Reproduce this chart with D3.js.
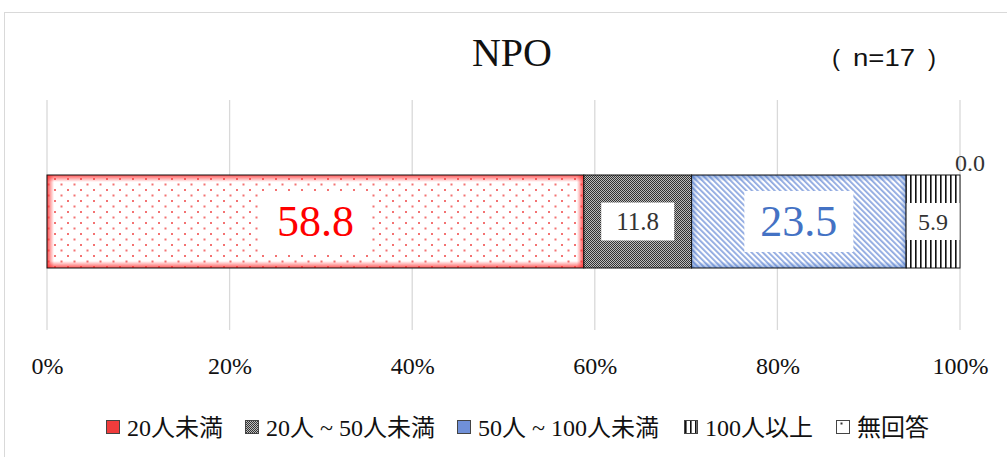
<!DOCTYPE html>
<html><head><meta charset="utf-8">
<script src="https://cdn.jsdelivr.net/npm/d3@7"></script>
<style>body{margin:0;background:#fff}svg{display:block}</style>
</head><body><svg id="c" width="1007" height="457"></svg>
<script>
const categories = ["20人未満","20人 ~ 50人未満","50人 ~ 100人未満","100人以上","無回答"];
const values = [58.8, 11.8, 23.5, 5.9, 0.0];
const ticks = [0,20,40,60,80,100];
const tickLabels = ["0%","20%","40%","60%","80%","100%"];
const title = "NPO";
const sampleNote = ["(", "n=17", ")"];

const svg = d3.select("#c");
const serif = "'Liberation Serif','DejaVu Serif',serif";
const legendFont = "'Liberation Serif','Noto Sans CJK JP',serif";
const defs = svg.append("defs");

// red dotted with inner glow
const rg = defs.append("pattern").attr("id","pRed").attr("patternUnits","userSpaceOnUse").attr("width",13).attr("height",11);
rg.append("rect").attr("width",13).attr("height",11).attr("fill","#fff");
rg.append("rect").attr("x",2).attr("y",2).attr("width",2).attr("height",2).attr("fill","#f37272");
rg.append("rect").attr("x",8.5).attr("y",7.5).attr("width",2).attr("height",2).attr("fill","#f37272");
const gx = defs.append("linearGradient").attr("id","gRedX");
gx.append("stop").attr("offset","0").attr("stop-color","#ff2a2a").attr("stop-opacity",0.85);
gx.append("stop").attr("offset","0.013").attr("stop-color","#ff2a2a").attr("stop-opacity",0);
gx.append("stop").attr("offset","0.987").attr("stop-color","#ff2a2a").attr("stop-opacity",0);
gx.append("stop").attr("offset","1").attr("stop-color","#ff2a2a").attr("stop-opacity",0.85);
const gy = defs.append("linearGradient").attr("id","gRedY").attr("x2",0).attr("y2",1);
gy.append("stop").attr("offset","0").attr("stop-color","#ff2a2a").attr("stop-opacity",0.8);
gy.append("stop").attr("offset","0.075").attr("stop-color","#ff2a2a").attr("stop-opacity",0);
gy.append("stop").attr("offset","0.925").attr("stop-color","#ff2a2a").attr("stop-opacity",0);
gy.append("stop").attr("offset","1").attr("stop-color","#ff2a2a").attr("stop-opacity",0.8);
// gray checker
const gp = defs.append("pattern").attr("id","pGray").attr("patternUnits","userSpaceOnUse").attr("width",2).attr("height",2);
gp.append("rect").attr("width",2).attr("height",2).attr("fill","#bdbdbd");
gp.append("rect").attr("width",1).attr("height",1).attr("fill","#333");
gp.append("rect").attr("x",1).attr("y",1).attr("width",1).attr("height",1).attr("fill","#333");
// blue diagonal stripes "\"
const bp = defs.append("pattern").attr("id","pBlue").attr("patternUnits","userSpaceOnUse").attr("width",4).attr("height",4).attr("patternTransform","rotate(-45)");
bp.append("rect").attr("width",4).attr("height",4).attr("fill","#ffffff");
bp.append("rect").attr("width",1.8).attr("height",4).attr("fill","#8ea8e0");
const gb = defs.append("linearGradient").attr("id","gBlueY").attr("x2",0).attr("y2",1);
gb.append("stop").attr("offset","0").attr("stop-color","#4472c4").attr("stop-opacity",0.55);
gb.append("stop").attr("offset","0.07").attr("stop-color","#4472c4").attr("stop-opacity",0);
gb.append("stop").attr("offset","0.93").attr("stop-color","#4472c4").attr("stop-opacity",0);
gb.append("stop").attr("offset","1").attr("stop-color","#4472c4").attr("stop-opacity",0.55);
const gbx = defs.append("linearGradient").attr("id","gBlueX");
gbx.append("stop").attr("offset","0").attr("stop-color","#4472c4").attr("stop-opacity",0.5);
gbx.append("stop").attr("offset","0.03").attr("stop-color","#4472c4").attr("stop-opacity",0);
gbx.append("stop").attr("offset","0.97").attr("stop-color","#4472c4").attr("stop-opacity",0);
gbx.append("stop").attr("offset","1").attr("stop-color","#4472c4").attr("stop-opacity",0.5);
// vertical lines
const vp = defs.append("pattern").attr("id","pVert").attr("patternUnits","userSpaceOnUse").attr("width",5).attr("height",5);
vp.append("rect").attr("width",5).attr("height",5).attr("fill","#fff");
vp.append("rect").attr("x",0).attr("width",1.6).attr("height",5).attr("fill","#111");
// dot box
const dp = defs.append("pattern").attr("id","pDot").attr("patternUnits","userSpaceOnUse").attr("width",11).attr("height",11);
dp.append("rect").attr("width",11).attr("height",11).attr("fill","#fff");
dp.append("rect").attr("x",4.5).attr("y",4.5).attr("width",2).attr("height",2).attr("fill","#333");

const fills = ["url(#pRed)","url(#pGray)","url(#pBlue)","url(#pVert)","url(#pDot)"];
const swatchFill = ["#f03c3c","url(#pGray)","#7090d8","url(#pVert)","url(#pDot)"];

// frame
svg.append("rect").attr("x",4.5).attr("y",12.5).attr("width",1010).attr("height",460).attr("fill","#fff").attr("stroke","#d9d9d9");

const x = d3.scaleLinear().domain([0,100]).range([47,960]);
const barTop = 175, barBot = 268;

// grid
svg.append("g").selectAll("line").data(ticks).join("line")
  .attr("x1",d=>x(d)).attr("x2",d=>x(d)).attr("y1",100).attr("y2",330)
  .attr("stroke","#d9d9d9").attr("stroke-width",1.3);

// axis labels
const ax = svg.append("g").attr("transform","translate(0,374)")
  .call(d3.axisBottom(x).tickValues(ticks).tickFormat((d,i)=>tickLabels[i]).tickSize(0).tickPadding(0));
ax.select(".domain").remove();
ax.selectAll("text").attr("font-family",serif).attr("font-size",24).attr("fill","#111").attr("dy",0).attr("y",0);

// stacked
let cum = 0;
const segs = values.map((v,i)=>{const s={i,v,x0:cum,x1:cum+v}; cum+=v; return s;});
const g = svg.append("g");
segs.forEach(s=>{
  if (s.v<=0) return;
  const rx = x(s.x0), rw = x(s.x1)-x(s.x0), rh = barBot-barTop;
  g.append("rect").attr("x",rx).attr("y",barTop).attr("width",rw).attr("height",rh).attr("fill",fills[s.i]);
  if (s.i===0){
    g.append("rect").attr("x",rx).attr("y",barTop).attr("width",rw).attr("height",rh).attr("fill","url(#gRedX)");
    g.append("rect").attr("x",rx).attr("y",barTop).attr("width",rw).attr("height",rh).attr("fill","url(#gRedY)");
  }
  if (s.i===2){
    g.append("rect").attr("x",rx).attr("y",barTop).attr("width",rw).attr("height",rh).attr("fill","url(#gBlueY)");
    g.append("rect").attr("x",rx).attr("y",barTop).attr("width",rw).attr("height",rh).attr("fill","url(#gBlueX)");
  }
  g.append("rect").attr("x",rx).attr("y",barTop).attr("width",rw).attr("height",rh)
    .attr("fill","none").attr("stroke","#111").attr("stroke-width",1);
});

// labels
const labelStyle = [
  {size:44,color:"#ff0000",boxW:110,boxH:61},
  {size:25,color:"#333",boxW:73,boxH:38},
  {size:44,color:"#4472c4",boxW:109,boxH:61},
  {size:24,color:"#333",boxW:null,boxH:37},
];
const yc = (barTop+barBot)/2;
segs.forEach(s=>{
  if (s.v<=0){
    svg.append("text").attr("x",x(s.x0)+10).attr("y",171).attr("text-anchor","middle")
      .attr("font-family",serif).attr("font-size",24).attr("fill","#333").text(s.v.toFixed(1));
    return;
  }
  const st = labelStyle[s.i];
  const cx = (x(s.x0)+x(s.x1))/2;
  const bw = st.boxW || (x(s.x1)-x(s.x0)-1);
  svg.append("rect").attr("x",cx-bw/2).attr("y",yc-st.boxH/2).attr("width",bw).attr("height",st.boxH).attr("fill","#fff");
  svg.append("text").attr("x",cx).attr("y",yc + st.size*0.34).attr("text-anchor","middle")
    .attr("font-family",serif).attr("font-size",st.size).attr("fill",st.color).text(s.v.toFixed(1));
});

// title
svg.append("text").attr("x",512).attr("y",66).attr("text-anchor","middle").attr("font-family",serif).attr("font-size",40)
  .attr("fill","#111").text(title);
const nt = svg.append("text").attr("y",66).attr("font-family","'Liberation Sans',sans-serif").attr("font-size",24).attr("fill","#111");
nt.append("tspan").attr("x",832).text(sampleNote[0]);
nt.append("tspan").attr("x",853).attr("textLength",62).attr("lengthAdjust","spacingAndGlyphs").text(sampleNote[1]);
nt.append("tspan").attr("x",928).text(sampleNote[2]);

// legend
const legX = [106, 245, 457, 684, 836];
const lg = svg.append("g");
categories.forEach((c,i)=>{
  lg.append("rect").attr("x",legX[i]+0.5).attr("y",420.5).attr("width",13).attr("height",13)
    .attr("fill",swatchFill[i]).attr("stroke","#444").attr("stroke-width",1);
  lg.append("text").attr("x",legX[i]+21).attr("y",436).attr("font-family",legendFont).attr("font-size",24).attr("fill","#111").text(c);
});
</script></body></html>
